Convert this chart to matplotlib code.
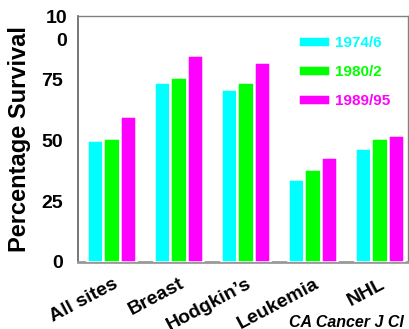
import matplotlib
matplotlib.use("Agg")
import matplotlib.pyplot as plt
import matplotlib.transforms as mtransforms
import numpy as np

categories = ["All sites", "Breast", "Hodgkin\u2019s", "Leukemia", "NHL"]
series_labels = ["1974/6", "1980/2", "1989/95"]
v_1974 = [50, 74, 71, 34, 47]
v_1980 = [51, 76, 74, 38, 51]
v_1989 = [60, 85, 82, 43, 52]
series_values = [v_1974, v_1980, v_1989]
colors = ["#00FFFF", "#00FF00", "#FF00FF"]
yticks = [0, 25, 50, 75]
ytick_labels = ["0", "25", "50", "75"]

plt.rcParams['font.family'] = ['Liberation Sans', 'DejaVu Sans']

fig = plt.figure(figsize=(4.09, 3.29), dpi=100)
ax = fig.add_axes([78/409, 1-262/329, (408-78)/409, (262-16)/329])

x = np.arange(len(categories))
w = 0.246
for i, (vals, c, lab) in enumerate(zip(series_values, colors, series_labels)):
    ax.bar(x + (i-1)*w, vals, width=w, color=c, edgecolor="white",
           linewidth=1.8, label=lab, zorder=3)

ax.set_xlim(-0.5, 4.425)
ax.set_ylim(0, 101)

ax.set_yticks(yticks)
ax.set_yticklabels(ytick_labels, fontsize=14, fontweight='bold')
ax.tick_params(axis='y', length=3, color='white', pad=8)
ax.text(-11/330, 95.3, "10\n0", transform=mtransforms.blended_transform_factory(ax.transAxes, ax.transData),
        ha='right', va='center', fontsize=14, fontweight='bold', linespacing=1.5)

ax.set_xticks(x)
ax.set_xticklabels(categories, fontsize=14, fontweight='bold', rotation=28,
                   ha='right', va='baseline', rotation_mode='anchor')
ax.tick_params(axis='x', length=0, pad=18)
off = mtransforms.ScaledTranslation(7/100, 0, fig.dpi_scale_trans)
for lbl in ax.get_xticklabels():
    lbl.set_transform(lbl.get_transform() + off)

ax.set_ylabel("Percentage Survival", fontsize=17, fontweight='bold', labelpad=7)

for s in ['top', 'right']:
    ax.spines[s].set_color('#808080')
    ax.spines[s].set_linewidth(1.0)
ax.spines['left'].set_color('#606060')
ax.spines['left'].set_linewidth(1.2)
ax.spines['bottom'].set_color('#999999')
ax.spines['bottom'].set_linewidth(2.0)

leg = ax.legend(loc='upper left', bbox_to_anchor=(298/409, 1-36/329), bbox_transform=fig.transFigure,
                frameon=False, fontsize=11, labelcolor=colors, handlelength=2.1, handleheight=0.72,
                labelspacing=0.98, handletextpad=0.35, borderaxespad=0, borderpad=0)
for t in leg.get_texts():
    t.set_fontweight('bold')

fig.text(289/409, 1-327/329, "CA Cancer J Cl", fontsize=11.5, fontweight='bold', style='italic',
         va='baseline', ha='left')

fig.savefig("out.png", dpi=100)
